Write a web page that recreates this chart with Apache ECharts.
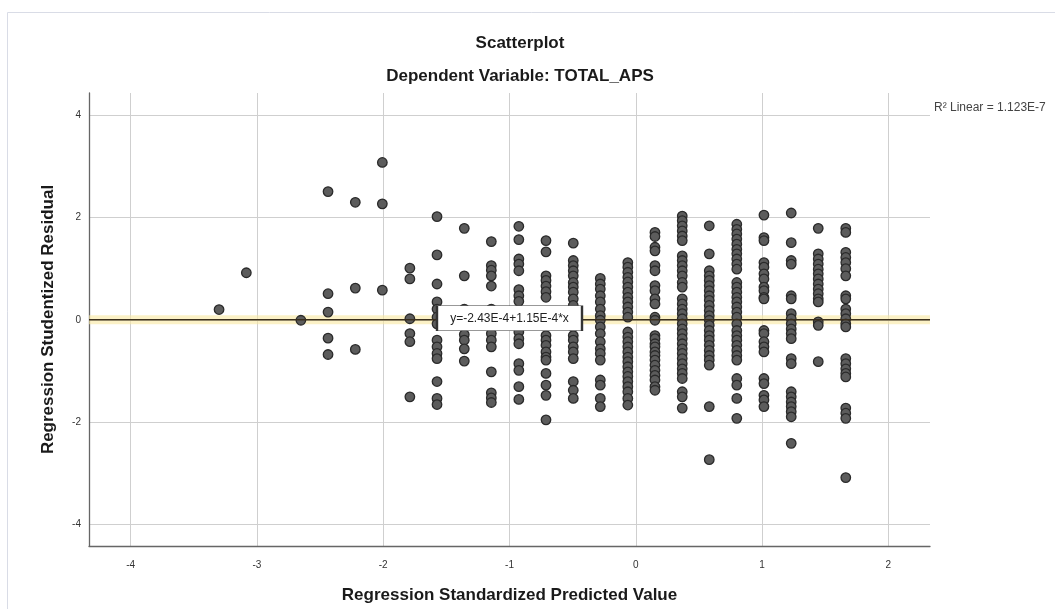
<!DOCTYPE html>
<html>
<head>
<meta charset="utf-8">
<script src="https://cdn.jsdelivr.net/npm/echarts@6/dist/echarts.min.js"></script>
<style>
html,body{margin:0;padding:0;background:#fff;}
#chart{width:1055px;height:609px;}
</style>
</head>
<body>
<div id="chart"></div>
<script>
// ---- data ----
const titleMain = 'Scatterplot';
const titleSub = 'Dependent Variable: TOTAL_APS';
const xAxisTitle = 'Regression Standardized Predicted Value';
const yAxisTitle = 'Regression Studentized Residual';
const r2Text = 'R² Linear = 1.123E-7';
const fitText = 'y=-2.43E-4+1.15E-4*x';
const fitIntercept = -2.43e-4;
const fitSlope = 1.15e-4;
const xRange = [-4.33, 2.33];
const yRange = [-4.43, 4.44];

// predicted value of each column of points
const columnX = [-3.300, -3.084, -2.652, -2.437, -2.221, -2.007, -1.789, -1.574, -1.358, -1.144,
  -0.926, -0.711, -0.495, -0.281, -0.063, 0.152, 0.368, 0.582, 0.800, 1.015, 1.231, 1.445, 1.663];

// studentized residuals in each column
const columnResiduals = [
  [0.20],
  [0.92],
  [-0.01],
  [2.51, 0.51, 0.15, -0.36, -0.68],
  [2.30, 0.62, -0.58],
  [3.08, 2.27, 0.58],
  [1.01, 0.80, 0.02, -0.27, -0.43, -1.51],
  [2.02, 1.27, 0.70, 0.35, 0.21, 0.05, -0.08, -0.40, -0.53, -0.66, -0.76, -1.21, -1.54, -1.66],
  [1.79, 0.86, 0.21, -0.29, -0.40, -0.57, -0.81],
  [1.53, 1.06, 0.97, 0.86, 0.66, 0.21, -0.27, -0.40, -0.53, -1.02, -1.43, -1.53, -1.62],
  [1.83, 1.57, 1.19, 1.09, 0.96, 0.59, 0.47, 0.36, -0.24, -0.37, -0.47, -0.86, -0.99, -1.31, -1.56],
  [1.55, 1.33, 0.86, 0.77, 0.66, 0.55, 0.44, 0.08, -0.31, -0.40, -0.50, -0.63, -0.73, -0.79, -1.05, -1.28, -1.48, -1.96],
  [1.50, 1.16, 1.06, 0.96, 0.86, 0.73, 0.64, 0.54, 0.41, 0.28, 0.12, 0.02, -0.14, -0.31, -0.40, -0.53, -0.63, -0.76, -1.21, -1.38, -1.54],
  [0.81, 0.70, 0.60, 0.47, 0.35, 0.21, 0.08, -0.01, -0.14, -0.27, -0.43, -0.57, -0.66, -0.79, -1.18, -1.28, -1.54, -1.70],
  [1.12, 1.03, 0.93, 0.83, 0.74, 0.64, 0.54, 0.44, 0.35, 0.25, 0.15, 0.05, -0.24, -0.34, -0.43, -0.53, -0.63, -0.73, -0.82, -0.92, -1.02, -1.11, -1.21, -1.31, -1.41, -1.54, -1.67],
  [1.71, 1.63, 1.42, 1.35, 1.06, 0.96, 0.67, 0.57, 0.41, 0.31, 0.05, -0.01, -0.31, -0.37, -0.47, -0.53, -0.63, -0.70, -0.79, -0.89, -0.99, -1.09, -1.18, -1.31, -1.38],
  [2.03, 1.94, 1.84, 1.74, 1.64, 1.55, 1.25, 1.16, 1.06, 0.96, 0.86, 0.73, 0.64, 0.41, 0.31, 0.21, 0.12, 0.02, -0.08, -0.18, -0.27, -0.37, -0.47, -0.57, -0.66, -0.76, -0.86, -0.96, -1.05, -1.15, -1.41, -1.51, -1.73],
  [1.84, 1.29, 0.96, 0.86, 0.77, 0.67, 0.57, 0.47, 0.38, 0.28, 0.18, 0.08, -0.01, -0.11, -0.21, -0.31, -0.40, -0.50, -0.60, -0.70, -0.79, -0.89, -1.70, -2.74],
  [1.87, 1.77, 1.68, 1.58, 1.48, 1.38, 1.29, 1.19, 1.09, 0.99, 0.73, 0.64, 0.54, 0.44, 0.35, 0.25, 0.15, 0.05, -0.08, -0.21, -0.31, -0.40, -0.50, -0.60, -0.70, -0.79, -1.15, -1.28, -1.54, -1.93],
  [2.05, 1.61, 1.55, 1.12, 1.03, 0.90, 0.80, 0.64, 0.57, 0.44, 0.41, -0.21, -0.27, -0.43, -0.53, -0.63, -1.15, -1.25, -1.48, -1.57, -1.70],
  [2.09, 1.51, 1.16, 1.09, 0.47, 0.41, 0.12, 0.02, -0.08, -0.18, -0.27, -0.37, -0.76, -0.86, -1.41, -1.51, -1.61, -1.70, -1.80, -1.90, -2.42],
  [1.79, 1.29, 1.19, 1.09, 0.99, 0.90, 0.80, 0.70, 0.60, 0.51, 0.41, 0.35, -0.04, -0.11, -0.82],
  [1.79, 1.71, 1.32, 1.22, 1.12, 1.00, 0.86, 0.47, 0.41, 0.21, 0.12, 0.02, -0.08, -0.14, -0.76, -0.86, -0.96, -1.05, -1.12, -1.73, -1.83, -1.93, -3.09]
];

// ---- build chart ----
const points = [];
columnX.forEach((x, i) => columnResiduals[i].forEach(r => points.push([x, r])));
const fitLine = [
  [xRange[0], fitIntercept + fitSlope * xRange[0]],
  [xRange[1], fitIntercept + fitSlope * xRange[1]]
];

const FONT = '"Liberation Sans", Arial, sans-serif';
const chart = echarts.init(document.getElementById('chart'), null, {renderer: 'canvas'});
chart.setOption({
  animation: false,
  backgroundColor: '#ffffff',
  graphic: [{
    type: 'rect', left: 5, top: 10,
    shape: {width: 1060, height: 610},
    style: {fill: 'none', stroke: '#d9dce6', lineWidth: 1}
  }],
  title: [
    {text: titleMain, left: 515, top: 30, textAlign: 'center',
     textStyle: {fontFamily: FONT, fontSize: 17, fontWeight: 'bold', color: '#1a1a1a'}},
    {text: titleSub, left: 515, top: 63, textAlign: 'center',
     textStyle: {fontFamily: FONT, fontSize: 17, fontWeight: 'bold', color: '#1a1a1a'}},
    {text: r2Text, left: 929, top: 97,
     textStyle: {fontFamily: FONT, fontSize: 12, fontWeight: 'normal', color: '#444'}}
  ],
  grid: {left: 89, right: 125, top: 93, bottom: 61, containLabel: false},
  xAxis: {
    type: 'value', min: xRange[0], max: xRange[1],
    minInterval: 1, maxInterval: 1,
    name: xAxisTitle, nameLocation: 'middle', nameGap: 41,
    nameTextStyle: {fontFamily: FONT, fontSize: 17, fontWeight: 'bold', color: '#1a1a1a'},
    axisLine: {show: true, onZero: false, lineStyle: {color: '#666', width: 1.3}},
    axisTick: {show: false},
    axisLabel: {showMinLabel: false, showMaxLabel: false, margin: 14,
      fontFamily: FONT, fontSize: 10, color: '#333'},
    splitLine: {show: true, showMinLine: false, showMaxLine: false,
      lineStyle: {color: '#cfcfcf', width: 1}}
  },
  yAxis: {
    type: 'value', min: yRange[0], max: yRange[1],
    minInterval: 2, maxInterval: 2,
    name: yAxisTitle, nameLocation: 'middle', nameGap: 32,
    nameTextStyle: {fontFamily: FONT, fontSize: 17, fontWeight: 'bold', color: '#1a1a1a'},
    axisLine: {show: true, onZero: false, lineStyle: {color: '#666', width: 1.3}},
    axisTick: {show: false},
    axisLabel: {showMinLabel: false, showMaxLabel: false, margin: 8,
      fontFamily: FONT, fontSize: 10, color: '#333'},
    splitLine: {show: true, showMinLine: false, showMaxLine: false,
      lineStyle: {color: '#cfcfcf', width: 1}}
  },
  series: [
    {
      type: 'line', data: fitLine, symbol: 'none', z: 1, silent: true,
      lineStyle: {color: 'rgba(248,232,160,0.6)', width: 9}
    },
    {
      type: 'scatter', data: points, symbol: 'circle', symbolSize: 9.5, z: 3,
      itemStyle: {color: '#5c5c5c', borderColor: '#2a2a2a', borderWidth: 1.3, opacity: 1}
    },
    {
      type: 'line', data: fitLine, symbol: 'none', z: 5, silent: true,
      lineStyle: {color: '#3a2e1c', width: 1.6},
      markPoint: {
        silent: true, z: 6,
        data: [{
          coord: [-1.0, 0.03], symbol: 'rect', symbolSize: [145, 25],
          itemStyle: {color: '#ffffff', borderColor: '#333', borderWidth: 1},
          label: {show: true, position: 'inside', formatter: fitText,
            fontFamily: FONT, fontSize: 12, color: '#222'}
        }]
      }
    }
  ]
});
</script>
</body>
</html>
